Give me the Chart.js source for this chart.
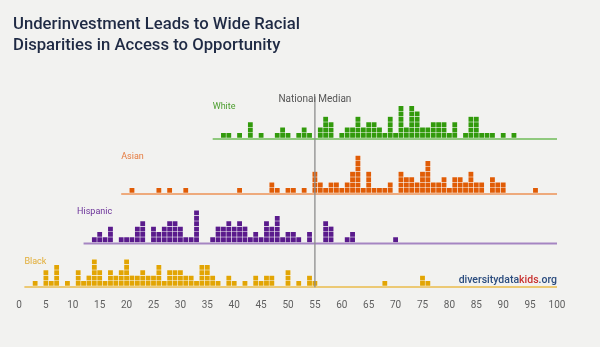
<!DOCTYPE html>
<html>
<head>
<meta charset="utf-8">
<title>Opportunity by race</title>
<script src="https://cdn.jsdelivr.net/npm/chart.js@4.4.0/dist/chart.umd.min.js"></script>
<style>
  html, body { margin: 0; padding: 0; background: #f2f2f0; }
  #wrap { position: relative; width: 600px; height: 347px; }
  #wrap canvas { position: absolute; left: 0; top: 0; }
  #wrap h1 {
    position: absolute; left: 13px; top: 13px; margin: 0;
    font: 500 16.7px/21px Roboto, sans-serif; color: #1f2a44;
  }
</style>
</head>
<body>
<div id="wrap">
  <canvas id="oppChart" width="600" height="347"></canvas>
  <h1>Underinvestment Leads to Wide Racial<br>Disparities in Access to Opportunity</h1>
</div>
<script>
// Child Opportunity Index scores, one square per metro area
const xTicks = [0, 5, 10, 15, 20, 25, 30, 35, 40, 45, 50, 55, 60, 65, 70, 75, 80, 85, 90, 95, 100];
const medianScore = 55;

const whiteScore = [38, 39, 41, 43, 45, 48, 49, 50, 52, 53, 54, 56, 57, 58, 60, 61, 62, 63, 64, 65, 66, 67, 68, 69, 70, 71, 72, 73, 74, 75, 76, 77, 78, 79, 80, 81, 83, 84, 85, 86, 87, 88, 90, 92];
const whiteCount = [1, 1, 1, 3, 1, 1, 2, 1, 1, 2, 1, 2, 4, 3, 1, 2, 2, 4, 2, 3, 3, 2, 1, 4, 1, 6, 2, 6, 5, 2, 2, 3, 3, 3, 1, 3, 1, 4, 4, 1, 1, 1, 1, 1];

const asianScore = [21, 26, 28, 31, 41, 47, 48, 50, 51, 53, 55, 56, 57, 58, 59, 60, 61, 62, 63, 64, 65, 66, 67, 68, 69, 71, 72, 73, 74, 75, 76, 77, 78, 79, 80, 81, 82, 83, 84, 85, 86, 88, 89, 90, 96];
const asianCount = [1, 1, 1, 1, 1, 2, 1, 1, 1, 1, 4, 2, 1, 2, 2, 1, 2, 4, 7, 1, 4, 1, 1, 1, 2, 4, 3, 3, 2, 4, 6, 2, 2, 3, 1, 3, 3, 2, 4, 2, 2, 3, 2, 2, 1];

const hispanicScore = [14, 15, 16, 17, 19, 20, 21, 22, 23, 25, 26, 27, 28, 29, 30, 31, 32, 33, 36, 37, 38, 39, 40, 41, 42, 43, 44, 45, 46, 47, 48, 49, 50, 51, 52, 54, 57, 58, 61, 62, 70];
const hispanicCount = [1, 2, 1, 3, 1, 1, 1, 3, 4, 3, 2, 3, 4, 4, 3, 1, 1, 6, 1, 3, 3, 4, 3, 4, 3, 1, 2, 1, 4, 3, 5, 1, 2, 2, 1, 2, 4, 3, 1, 2, 1];

const blackScore = [3, 5, 6, 7, 9, 11, 12, 13, 14, 15, 16, 17, 18, 19, 20, 21, 22, 23, 24, 25, 26, 27, 28, 29, 30, 31, 32, 33, 34, 35, 36, 37, 39, 40, 42, 44, 45, 46, 47, 50, 52, 54, 55, 68, 75, 76];
const blackCount = [1, 3, 1, 4, 1, 3, 1, 2, 5, 3, 1, 3, 2, 3, 5, 2, 2, 3, 2, 2, 4, 1, 3, 3, 3, 2, 2, 1, 4, 4, 2, 1, 2, 1, 1, 2, 1, 2, 2, 3, 1, 2, 1, 1, 2, 1];

// row placement (y in square units) and colours
const rows = [
  { name: 'White',    scores: whiteScore,    counts: whiteCount,    base: 27.55, start: 36, labelX: 36,   labelY: 33.35, fill: '#329a0c', line: '#90c97e', text: '#4c9e2e' },
  { name: 'Asian',    scores: asianScore,    counts: asianCount,    base: 17.32, start: 19, labelX: 19,   labelY: 24.07, fill: '#e05c06', line: '#eeaa7c', text: '#e57a3e' },
  { name: 'Hispanic', scores: hispanicScore, counts: hispanicCount, base: 8.12,  start: 12, labelX: 10.8, labelY: 13.84, fill: '#5a1b8c', line: '#a585c2', text: '#6b3299' },
  { name: 'Black',    scores: blackScore,    counts: blackCount,    base: 0,     start: 1,  labelX: 1,    labelY: 4.55,  fill: '#e2a504', line: '#ecc974', text: '#e2ad36' }
];

// one floating bar per square, stacked upward from the row baseline
function squares(scores, counts, base) {
  const out = [];
  scores.forEach((s, i) => {
    for (let k = 0; k < counts[i]; k++) {
      out.push({ x: s, y: [base + k, base + k + 1] });
    }
  });
  return out;
}

const datasets = [{
  type: 'line',
  data: [{ x: medianScore, y: -0.2 }, { x: medianScore, y: 35.3 }],
  borderColor: '#8c8c8c',
  borderWidth: 1.3,
  pointRadius: 0,
  order: 0
}];

rows.forEach(r => {
  datasets.push({
    type: 'bar',
    data: squares(r.scores, r.counts, r.base),
    backgroundColor: r.fill,
    borderColor: 'rgba(255,255,255,0.3)',
    borderWidth: 0.6,
    borderSkipped: false,
    grouped: false,
    barPercentage: 1,
    categoryPercentage: 1,
    order: 1
  });
  datasets.push({
    type: 'line',
    data: [{ x: r.start, y: r.base - 0.19 }, { x: 100, y: r.base - 0.19 }],
    borderColor: r.line,
    borderWidth: 2,
    pointRadius: 0,
    order: 2
  });
});

const annotations = {
  id: 'annotations',
  afterDatasetsDraw(chart) {
    const { ctx, scales: { x, y } } = chart;
    ctx.save();
    ctx.textBaseline = 'middle';

    ctx.font = '9px Roboto';
    ctx.textAlign = 'left';
    rows.forEach(r => {
      ctx.fillStyle = r.text;
      ctx.fillText(r.name, x.getPixelForValue(r.labelX), y.getPixelForValue(r.labelY));
    });

    ctx.font = '10px Roboto';
    ctx.textAlign = 'center';
    ctx.fillStyle = '#555';
    ctx.fillText('National Median', x.getPixelForValue(medianScore), y.getPixelForValue(34.76));

    // site mark, right aligned to the end of the axis
    ctx.font = '500 10.5px Roboto';
    ctx.textAlign = 'left';
    const parts = [['diversitydata', '#2b4c7e'], ['kids', '#c9312f'], ['.org', '#2b4c7e']];
    const total = parts.reduce((w, p) => w + ctx.measureText(p[0]).width, 0);
    let px = x.getPixelForValue(100) - total;
    const py = y.getPixelForValue(1.0);
    parts.forEach(([t, c]) => {
      ctx.fillStyle = c;
      ctx.fillText(t, px, py);
      px += ctx.measureText(t).width;
    });
    ctx.restore();
  }
};

new Chart(document.getElementById('oppChart'), {
  type: 'bar',
  data: { datasets },
  options: {
    responsive: false,
    animation: false,
    layout: { padding: { left: 19, right: 43, top: 90, bottom: 31 } },
    plugins: { legend: { display: false }, tooltip: { enabled: false } },
    scales: {
      x: {
        type: 'linear',
        min: 0,
        max: 100,
        offset: false,
        grid: { display: false, drawTicks: false },
        border: { display: false },
        ticks: { color: '#5f5f5f', font: { family: 'Roboto', size: 10 }, padding: 5, autoSkip: false, maxRotation: 0 },
        afterBuildTicks: axis => { axis.ticks = xTicks.map(v => ({ value: v })); }
      },
      y: { type: 'linear', min: -1.47, max: 36.5, display: false }
    }
  },
  plugins: [annotations]
});
</script>
</body>
</html>
